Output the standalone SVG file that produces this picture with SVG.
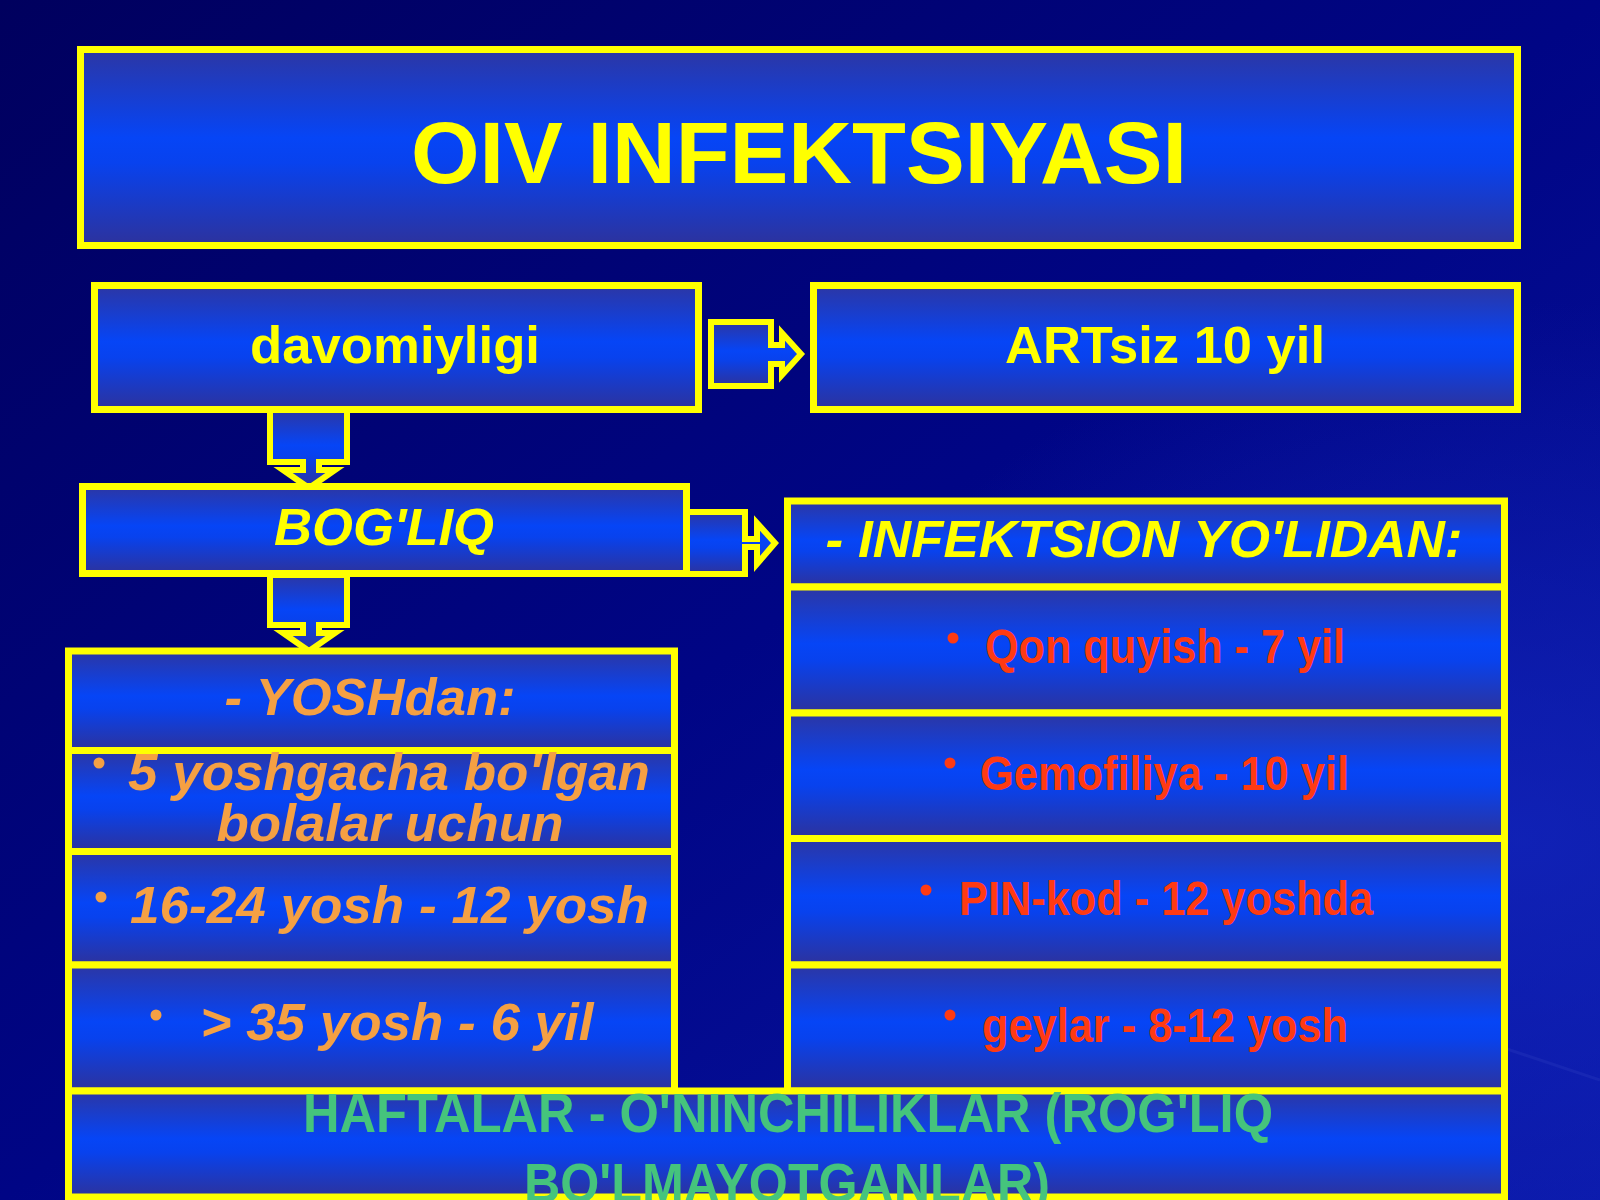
<svg xmlns="http://www.w3.org/2000/svg" width="1600" height="1200" viewBox="0 0 1600 1200">
<defs>
<linearGradient id="bg" x1="0" y1="0" x2="1" y2="1">
<stop offset="0" stop-color="#00005e"/>
<stop offset="0.5" stop-color="#000585"/>
<stop offset="1" stop-color="#0a18a8"/>
</linearGradient>
<radialGradient id="glow" cx="0.95" cy="0.7" r="0.45">
<stop offset="0" stop-color="#1428c0" stop-opacity="0.7"/>
<stop offset="1" stop-color="#1428c0" stop-opacity="0"/>
</radialGradient>
<linearGradient id="box" x1="0" y1="0" x2="0" y2="1">
<stop offset="0" stop-color="#2c36a4"/>
<stop offset="0.45" stop-color="#0645f6"/>
<stop offset="0.58" stop-color="#0842ee"/>
<stop offset="1" stop-color="#2d329c"/>
</linearGradient>
<style>
.bx{fill:url(#box);stroke:#ffff00;stroke-width:7}
.ar{fill:url(#box);stroke:#ffff00;stroke-width:6;stroke-linejoin:miter}
.t{font-family:"Liberation Sans",Arial,sans-serif;font-weight:bold;text-anchor:middle}
.y{fill:#ffff00}
.i{font-style:italic}
.o{fill:#f5a043}
.r{fill:#ff3a12}
.g{fill:#45c47c}
</style>
</defs>
<rect width="1600" height="1200" fill="url(#bg)"/>
<rect width="1600" height="1200" fill="url(#glow)"/>
<path d="M1480,1040 L1600,1080 M1500,1210 L1600,1230" stroke="#3040c0" stroke-width="3" opacity="0.3" fill="none"/>

<g id="connectors">
<path class="ar" d="M711,322 H771 V345 H782 V333 L801,354 L782,375 V364 H771 V386 H711 Z"/>
<path class="ar" d="M686,512 H745 V539 H757 V523 L775,543 L757,564 V547 H745 V574 H686 Z"/>
<path class="ar" d="M270,410 H347 V462 H319 V470 H335 L309,488 L283,470 H303 V462 H270 Z"/>
<path class="ar" d="M270,575 H347 V625 H319 V633 H335 L309,651 L283,633 H303 V625 H270 Z"/>
</g>

<g id="title">
<rect class="bx" x="80.5" y="49.5" width="1437" height="196"/>
<text class="t y" x="799" y="183" font-size="87" textLength="776" lengthAdjust="spacingAndGlyphs">OIV INFEKTSIYASI</text>
</g>

<g id="davomiyligi">
<rect class="bx" x="94.5" y="285.5" width="604" height="124"/>
<text class="t y" x="395" y="363" font-size="52" textLength="290" lengthAdjust="spacingAndGlyphs">davomiyligi</text>
</g>

<g id="artsiz">
<rect class="bx" x="813.5" y="285.5" width="704" height="124"/>
<text class="t y" x="1165" y="363" font-size="52" textLength="320" lengthAdjust="spacingAndGlyphs">ARTsiz 10 yil</text>
</g>

<g id="bogliq">
<rect class="bx" x="82.5" y="486.5" width="604" height="87"/>
<text class="t y i" x="384" y="545" font-size="52" textLength="220" lengthAdjust="spacingAndGlyphs">BOG'LIQ</text>
</g>

<g id="yoshdan">
<rect class="bx" x="68.5" y="651" width="606" height="99.5"/>
<text class="t o i" x="370" y="715" font-size="52" textLength="291" lengthAdjust="spacingAndGlyphs">- YOSHdan:</text>
<rect class="bx" x="68.5" y="750.5" width="606" height="101"/>
<circle cx="99" cy="763" r="5.5" fill="#f5a043"/>
<text class="t o i" x="389" y="790" font-size="52" textLength="522" lengthAdjust="spacingAndGlyphs">5 yoshgacha bo'lgan</text>
<text class="t o i" x="390" y="841" font-size="52" textLength="347" lengthAdjust="spacingAndGlyphs">bolalar uchun</text>
<rect class="bx" x="68.5" y="851.5" width="606" height="113.5"/>
<circle cx="101" cy="897" r="5.5" fill="#f5a043"/>
<text class="t o i" x="389.5" y="923" font-size="52" textLength="519" lengthAdjust="spacingAndGlyphs">16-24 yosh - 12 yosh</text>
<rect class="bx" x="68.5" y="965" width="606" height="126"/>
<circle cx="156" cy="1015" r="5.5" fill="#f5a043"/>
<text class="t o i" x="397" y="1040" font-size="52" textLength="393" lengthAdjust="spacingAndGlyphs">&gt; 35 yosh - 6 yil</text>
</g>

<g id="infektsion">
<rect class="bx" x="787.5" y="501" width="717" height="86"/>
<text class="t y i" x="1144" y="557" font-size="52" textLength="637" lengthAdjust="spacingAndGlyphs">- INFEKTSION YO'LIDAN:</text>
<rect class="bx" x="787.5" y="587" width="717" height="126"/>
<circle cx="953" cy="638" r="5.5" fill="#ff3a12"/>
<text class="t r" x="1165" y="663" font-size="48" textLength="360" lengthAdjust="spacingAndGlyphs">Qon quyish - 7 yil</text>
<rect class="bx" x="787.5" y="713" width="717" height="125.5"/>
<circle cx="950" cy="763" r="5.5" fill="#ff3a12"/>
<text class="t r" x="1164.5" y="790" font-size="48" textLength="369" lengthAdjust="spacingAndGlyphs">Gemofiliya - 10 yil</text>
<rect class="bx" x="787.5" y="838.5" width="717" height="126.5"/>
<circle cx="926" cy="890" r="5.5" fill="#ff3a12"/>
<text class="t r" x="1166" y="915" font-size="48" textLength="414" lengthAdjust="spacingAndGlyphs">PIN-kod - 12 yoshda</text>
<rect class="bx" x="787.5" y="965" width="717" height="126"/>
<circle cx="950" cy="1015" r="5.5" fill="#ff3a12"/>
<text class="t r" x="1165" y="1042" font-size="48" textLength="366" lengthAdjust="spacingAndGlyphs">geylar - 8-12 yosh</text>
</g>

<g id="haftalar">
<rect class="bx" x="68.5" y="1091" width="1436" height="106"/>
<text class="t g" x="788" y="1132" font-size="55" textLength="970" lengthAdjust="spacingAndGlyphs">HAFTALAR - O'NINCHILIKLAR (ROG'LIQ</text>
<text class="t g" x="787" y="1202" font-size="55" textLength="526" lengthAdjust="spacingAndGlyphs">BO'LMAYOTGANLAR)</text>
</g>
</svg>
